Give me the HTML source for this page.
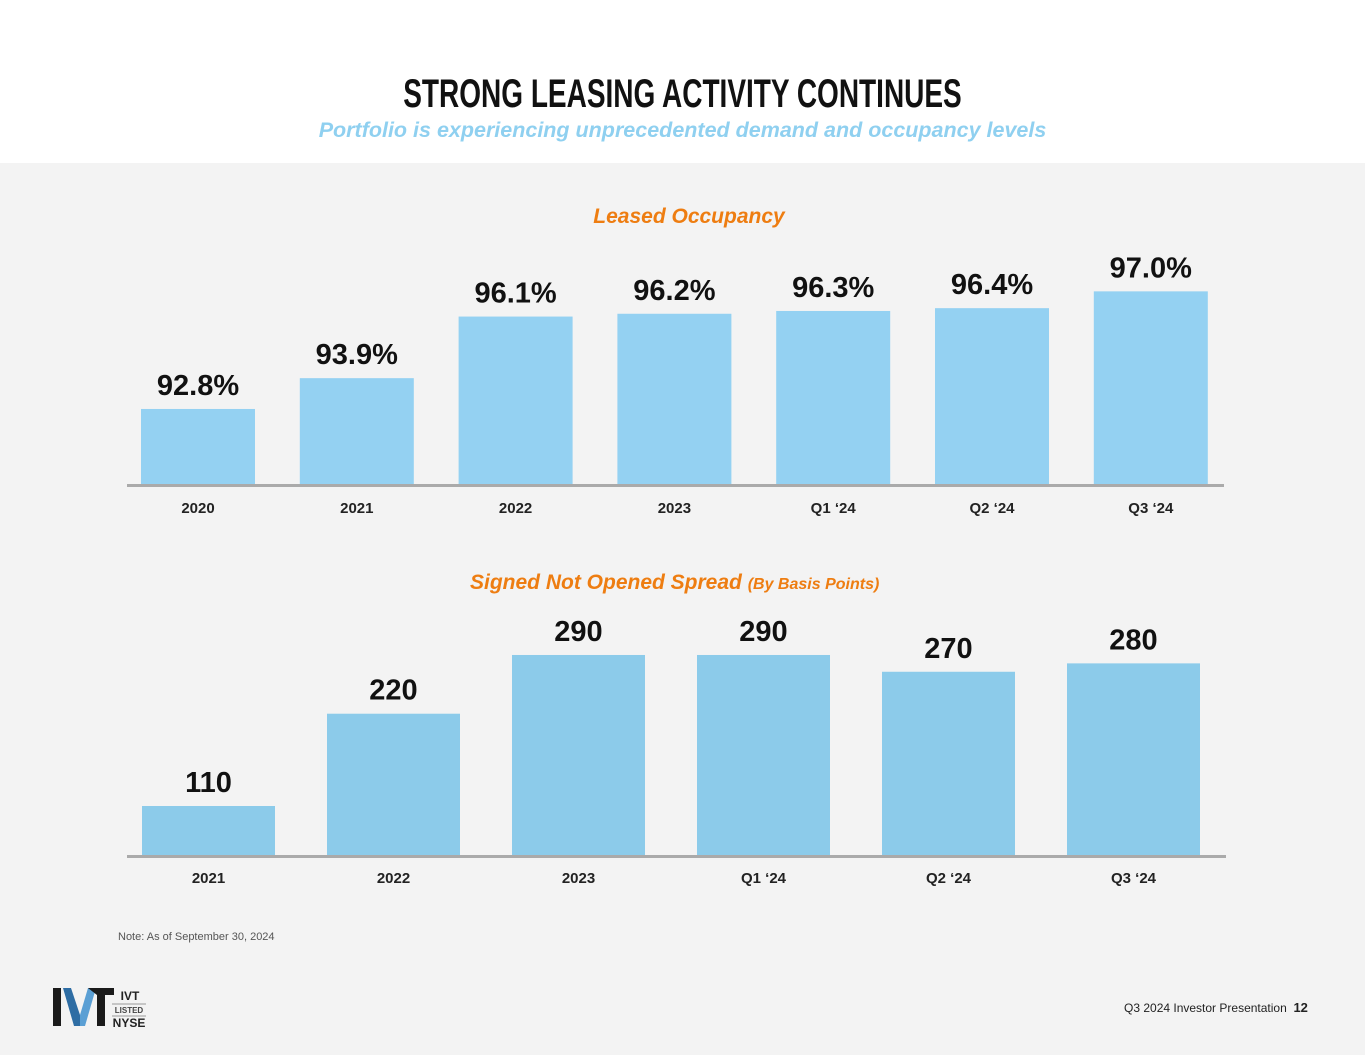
<!DOCTYPE html>
<html><head><meta charset="utf-8"><style>
body{margin:0;width:1365px;height:1055px;overflow:hidden;background:#f3f3f3;font-family:"Liberation Sans",sans-serif;position:relative}
#hdr{position:absolute;left:0;top:0;width:1365px;height:163px;background:#fff}
.t{position:absolute;white-space:nowrap}
svg text{font-family:"Liberation Sans",sans-serif;font-weight:bold}
</style></head><body>
<div id="hdr"></div>
<div class="t" style="left:0;width:1365px;top:72px;text-align:center;font-weight:bold;font-size:40px;color:#111;transform:scaleX(0.70)">STRONG LEASING ACTIVITY CONTINUES</div>
<div class="t" style="left:0;width:1365px;top:118px;text-align:center;font-style:italic;font-weight:bold;font-size:21.5px;color:#8fd0f0">Portfolio is experiencing unprecedented demand and occupancy levels</div>
<div class="t" style="left:0;width:1378px;top:205px;text-align:center;font-style:italic;font-weight:bold;font-size:21px;color:#ee7d11">Leased Occupancy</div>
<div class="t" style="left:470px;top:571px;font-style:italic;font-weight:bold;font-size:21px;color:#ee7d11">Signed Not Opened Spread <span style="font-size:16px">(By Basis Points)</span></div>
<svg id="c" width="1365" height="1055" style="position:absolute;left:0;top:0"></svg>
<div class="t" style="left:118px;top:931px;font-size:11px;color:#555">Note: As of September 30, 2024</div>
<div class="t" style="left:1124px;top:1000px;font-size:12px;color:#222">Q3 2024 Investor Presentation &nbsp;<b style="font-size:13px">12</b></div>
<svg style="position:absolute;left:50px;top:985px" width="100" height="45">
<polygon points="3,3 11,3 11,41 3,41" fill="#1a1a1a"/>
<polygon points="13,3 21,3 30,30 30,41 24,41" fill="#2e6da4"/>
<polygon points="30,30 38,3 46,3 35,41 30,41" fill="#5a9fd4"/>
<polygon points="38,3 64,3 64,10 55,10 55,41 47,41 47,10" fill="#1a1a1a"/>
<text x="80" y="15" font-size="12" font-weight="bold" fill="#222" text-anchor="middle" font-family="Liberation Sans">IVT</text>
<line x1="62" y1="19" x2="96" y2="19" stroke="#999"/>
<text x="79" y="28" font-size="8" fill="#444" text-anchor="middle" font-family="Liberation Sans">LISTED</text>
<line x1="62" y1="31" x2="96" y2="31" stroke="#999"/>
<text x="79" y="42" font-size="12" font-weight="bold" fill="#222" text-anchor="middle" font-family="Liberation Sans">NYSE</text>
</svg>
<script>
const occCats=["2020","2021","2022","2023","Q1 \u201824","Q2 \u201824","Q3 \u201824"];
const occVals=[92.8,93.9,96.1,96.2,96.3,96.4,97.0];
const occLabels=["92.8%","93.9%","96.1%","96.2%","96.3%","96.4%","97.0%"];
const snoCats=["2021","2022","2023","Q1 \u201824","Q2 \u201824","Q3 \u201824"];
const snoVals=[110,220,290,290,270,280];
const snoLabels=["110","220","290","290","270","280"];
const svg=document.getElementById('c');const NS='http://www.w3.org/2000/svg';
function mk(t,a){const e=document.createElementNS(NS,t);for(const k in a)e.setAttribute(k,a[k]);svg.appendChild(e);return e;}
function chart(cats,vals,labels,o){
  const y=v=>o.base-(v-o.v0)*o.k;
  cats.forEach((c,i)=>{
    const x=o.x0+i*o.step;
    const r=mk('rect',{x:x,y:y(vals[i]),width:o.w,height:o.base-y(vals[i]),fill:o.color});
    
    
    const t=mk('text',{x:x+o.w/2,y:y(vals[i])-o.lgap,'font-size':o.lfs,'text-anchor':'middle',fill:'#111'});t.textContent=labels[i];
    
    
    const ct=mk('text',{x:x+o.w/2,y:o.base+o.cgap,'font-size':15,'text-anchor':'middle',fill:'#222'});ct.textContent=c;
    
    
  });
  const l=mk('rect',{x:o.ax0,y:o.base,width:o.ax1-o.ax0,height:3,fill:'#aaa'});
  
  
}
chart(occCats,occVals,occLabels,{id:'occ',x0:141,step:158.8,w:114,base:484,v0:90.12,k:28,color:'#94d1f2',lgap:14,lfs:29,cgap:29,ax0:127,ax1:1224});
chart(snoCats,snoVals,snoLabels,{id:'sno',x0:142,step:185,w:133,base:855,v0:51.6,k:0.839,color:'#8ccbea',lgap:14,lfs:29,cgap:28,ax0:127,ax1:1226});
</script>
</body></html>
